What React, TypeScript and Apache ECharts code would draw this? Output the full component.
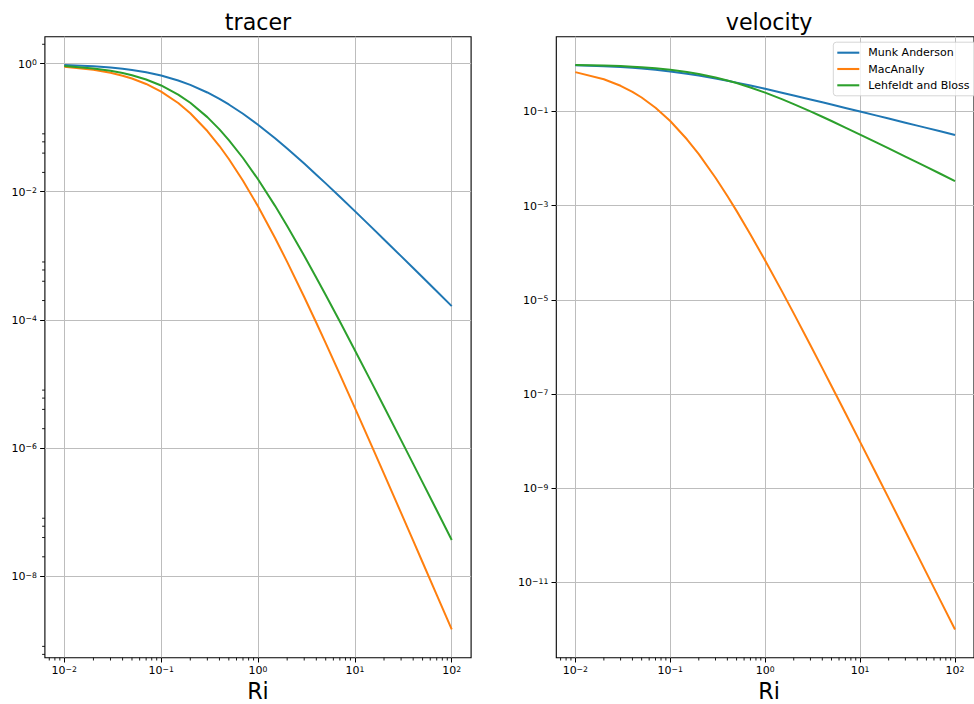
import React, { useEffect, useRef } from 'react';
import * as echarts from 'echarts';

// Richardson number samples
const ri = [0.01, 0.02, 0.03, 0.04, 0.05, 0.07, 0.1, 0.15, 0.2, 0.3, 0.4, 0.5, 0.7, 1, 1.5, 2, 3, 4, 5, 7, 10, 15, 20, 30, 40, 50, 70, 100];

// tracer panel
const tracerMunk = [0.95205, 0.90782, 0.8669, 0.82898, 0.79373, 0.7303, 0.64976, 0.5446, 0.46504, 0.35382, 0.28081, 0.22986, 0.16449, 0.11099, 0.068126, 0.047169, 0.027447, 0.018454, 0.013486, 0.008343, 0.004978, 0.0027497, 0.0017992, 9.8665e-4, 6.4324e-4, 4.6129e-4, 2.7919e-4, 1.6382e-4];
const tracerMac = [0.89167, 0.79799, 0.71658, 0.64556, 0.58331, 0.48029, 0.36567, 0.2422, 0.16755, 0.088544, 0.051637, 0.032365, 0.014825, 0.0059201, 0.0018955, 8.039e-4, 2.2724e-4, 8.9993e-5, 4.329e-5, 1.4117e-5, 4.2312e-6, 1.0593e-6, 3.9372e-7, 9.6913e-8, 3.5717e-8, 1.6441e-8, 5.0944e-9, 1.4685e-9];
const tracerLehfeldt = [0.91514, 0.83962, 0.77218, 0.71178, 0.65752, 0.56447, 0.45517, 0.32802, 0.24414, 0.14579, 0.093914, 0.064, 0.033567, 0.015625, 0.0060105, 0.0029155, 0.001, 4.5517e-4, 2.4414e-4, 9.3914e-5, 3.3567e-5, 1.0274e-5, 4.4057e-6, 1.327e-6, 5.6447e-7, 2.9045e-7, 1.0645e-7, 3.6669e-8];

// velocity panel
const velMunk = [0.95346, 0.91287, 0.87706, 0.84515, 0.8165, 0.76696, 0.70711, 0.63246, 0.57735, 0.5, 0.44721, 0.40825, 0.35355, 0.30151, 0.25, 0.21822, 0.17961, 0.15617, 0.14003, 0.11868, 0.099504, 0.081379, 0.070535, 0.057639, 0.049938, 0.044677, 0.03777, 0.031607];
const velMac = [0.68301, 0.48225, 0.35013, 0.26031, 0.19753, 0.11973, 0.0625, 0.0256, 0.012346, 0.0039063, 0.0016, 7.716e-4, 2.4414e-4, 6.8301e-5, 1.5259e-5, 5.1419e-6, 1.0828e-6, 3.5389e-7, 1.4782e-7, 3.9352e-8, 9.6098e-9, 1.9235e-9, 6.1265e-10, 1.2182e-10, 3.8674e-11, 1.5873e-11, 4.1412e-12, 9.9601e-13];
const velLehfeldt = [0.97087, 0.9434, 0.91743, 0.89286, 0.86957, 0.82645, 0.76923, 0.68966, 0.625, 0.52632, 0.45455, 0.4, 0.32258, 0.25, 0.18182, 0.14286, 0.1, 0.076923, 0.0625, 0.045455, 0.032258, 0.021739, 0.016393, 0.010989, 0.0082645, 0.0066225, 0.0047393, 0.0033223];

const seriesNames = ['Munk Anderson', 'MacAnally', 'Lehfeldt and Bloss'];
const titles = ['tracer', 'velocity'];
const xLabel = 'Ri';

// tick exponents (log10 axes)
const xMajorExp = [-2, -1, 0, 1, 2];
const tracerMajorExp = [0, -2, -4, -6, -8];
const velocityMajorExp = [-1, -3, -5, -7, -9, -11];
const xMinorMantissa = [2, 3, 4, 5, 6, 7, 8, 9];
const xMinorDecades = [-3, -2, -1, 0, 1];
const tracerMinorMantissa = [2, 4, 6, 8];
const tracerMinorDecades = [0, -2, -4, -6, -8, -10];

// axis limits in log10 units
const X_MIN = -2.2, X_MAX = 2.2;
const TRACER_MIN = -9.2737, TRACER_MAX = 0.41926;
const VEL_MIN = -12.6012, VEL_MAX = 0.58662;

const COLORS = ['#1f77b4', '#ff7f0e', '#2ca02c'];
const FONT = "'DejaVu Sans', sans-serif";

const minorVals = (mants: number[], decs: number[], lo: number, hi: number) => {
  const out: number[] = [];
  decs.forEach((d) => mants.forEach((m) => {
    const v = Math.log10(m) + d;
    if (v > lo && v < hi) out.push(v);
  }));
  return out;
};

const toLog = (ys: number[]) => ri.map((x, i) => [Math.log10(x), Math.log10(ys[i])]);

const fmt = (v: number) => {
  const e = Math.round(v);
  const s = e < 0 ? '\u2212' + Math.abs(e) : String(e);
  return `{b|10}{s|${s}}`;
};

const rich = {
  b: { fontSize: 11, fontFamily: FONT, color: '#000', lineHeight: 12, padding: [4, 0, 0, 0], verticalAlign: 'bottom' },
  s: { fontSize: 7.7, fontFamily: FONT, color: '#000', lineHeight: 8, padding: [1, 0, 0, 0], verticalAlign: 'top' },
};

const gridLine = { show: true, lineStyle: { color: '#bdbdbd', width: 1 } };
const majorTick = (vals: number[]) => ({ show: true, length: 4.8, customValues: vals, lineStyle: { color: '#000', width: 1 } });

const xAxisFor = (gi: number) => ({
  type: 'value', gridIndex: gi, min: X_MIN, max: X_MAX, position: 'bottom',
  axisLine: { show: false, onZero: false },
  axisTick: majorTick(xMajorExp),
  axisLabel: { customValues: xMajorExp, formatter: fmt, rich, margin: 6.6 },
  splitLine: gridLine,
});

const yAxisFor = (gi: number, lo: number, hi: number, exps: number[]) => ({
  type: 'value', gridIndex: gi, min: lo, max: hi, position: 'left',
  axisLine: { show: false, onZero: false },
  axisTick: majorTick(exps),
  axisLabel: { customValues: exps, formatter: fmt, rich, margin: 8 },
  splitLine: gridLine,
});

const xMinorTicks = (gi: number) => ({
  type: 'custom', xAxisIndex: gi, yAxisIndex: gi, silent: true, clip: false, z: 5,
  data: minorVals(xMinorMantissa, xMinorDecades, X_MIN, X_MAX).map((v) => [v, gi === 0 ? -5 : -6]),
  encode: { x: 0, y: 1 },
  renderItem: (params: any, api: any) => {
    const cs = params.coordSys;
    const x = api.coord([api.value(0), api.value(1)])[0];
    const yb = cs.y + cs.height;
    return { type: 'line', shape: { x1: x, y1: yb, x2: x, y2: yb + 2.8 }, style: { stroke: '#000', lineWidth: 0.9 } };
  },
});

const yMinorTicks = () => ({
  type: 'custom', xAxisIndex: 0, yAxisIndex: 0, silent: true, clip: false, z: 5,
  data: minorVals(tracerMinorMantissa, tracerMinorDecades, TRACER_MIN, TRACER_MAX).map((v) => [0, v]),
  encode: { x: 0, y: 1 },
  renderItem: (params: any, api: any) => {
    const cs = params.coordSys;
    const y = api.coord([api.value(0), api.value(1)])[1];
    const xl = cs.x;
    return { type: 'line', shape: { x1: xl, y1: y, x2: xl - 2.8, y2: y }, style: { stroke: '#000', lineWidth: 0.9 } };
  },
});

const lineSeries = (name: string, ys: number[], gi: number, ci: number) => ({
  type: 'line', name, xAxisIndex: gi, yAxisIndex: gi, data: toLog(ys),
  showSymbol: false, symbol: 'none', clip: true, z: 3,
  lineStyle: { color: COLORS[ci], width: 2, join: 'round' }, itemStyle: { color: COLORS[ci] },
});

const LEFT_GRID = { left: 44.9, top: 36.7, width: 426.2, height: 621 };
const RIGHT_GRID = { left: 556.3, top: 36.7, width: 425.7, height: 621 };

export default function App() {
  const ref = useRef<HTMLDivElement>(null);
  useEffect(() => {
    if (!ref.current) return;
    const chart = echarts.init(ref.current, null, { renderer: 'svg' });
    const gridCommon = { show: true, borderColor: '#000', borderWidth: 1.1, backgroundColor: 'transparent', containLabel: false };
    const titleStyle = { fontSize: 22.2, fontFamily: FONT, fill: '#000', align: 'center', verticalAlign: 'middle', lineHeight: 20 };
    const option: any = {
      animation: false,
      backgroundColor: '#fff',
      textStyle: { fontFamily: FONT },
      grid: [{ ...gridCommon, ...LEFT_GRID }, { ...gridCommon, ...RIGHT_GRID }],
      xAxis: [xAxisFor(0), xAxisFor(1)],
      yAxis: [
        yAxisFor(0, TRACER_MIN, TRACER_MAX, tracerMajorExp),
        yAxisFor(1, VEL_MIN, VEL_MAX, velocityMajorExp),
      ],
      legend: {
        data: seriesNames,
        orient: 'vertical',
        left: 833.3,
        top: 42.2,
        padding: [4, 12, 4, 4],
        itemWidth: 22,
        itemHeight: 2.1,
        itemGap: 3.3,
        icon: 'rect',
        backgroundColor: 'rgba(255,255,255,0.8)',
        borderColor: 'rgba(204,204,204,0.8)',
        borderWidth: 1,
        borderRadius: 3,
        selectedMode: false,
        textStyle: { fontSize: 11, fontFamily: FONT, color: '#000', lineHeight: 13, padding: [0, 0, 0, 4] },
      },
      graphic: [
        { type: 'text', x: LEFT_GRID.left + LEFT_GRID.width / 2, y: 22, style: { text: titles[0], ...titleStyle } },
        { type: 'text', x: RIGHT_GRID.left + RIGHT_GRID.width / 2, y: 22, style: { text: titles[1], ...titleStyle } },
        { type: 'text', x: LEFT_GRID.left + LEFT_GRID.width / 2, y: 691, style: { text: xLabel, ...titleStyle } },
        { type: 'text', x: RIGHT_GRID.left + RIGHT_GRID.width / 2, y: 691, style: { text: xLabel, ...titleStyle } },
      ],
      series: [
        lineSeries(seriesNames[0], tracerMunk, 0, 0),
        lineSeries(seriesNames[1], tracerMac, 0, 1),
        lineSeries(seriesNames[2], tracerLehfeldt, 0, 2),
        lineSeries(seriesNames[0], velMunk, 1, 0),
        lineSeries(seriesNames[1], velMac, 1, 1),
        lineSeries(seriesNames[2], velLehfeldt, 1, 2),
        xMinorTicks(0),
        xMinorTicks(1),
        yMinorTicks(),
      ],
    };
    chart.setOption(option);
    return () => chart.dispose();
  }, []);
  return <div ref={ref} style={{ position: 'absolute', left: 0, top: 0, width: 974, height: 704 }} />;
}
